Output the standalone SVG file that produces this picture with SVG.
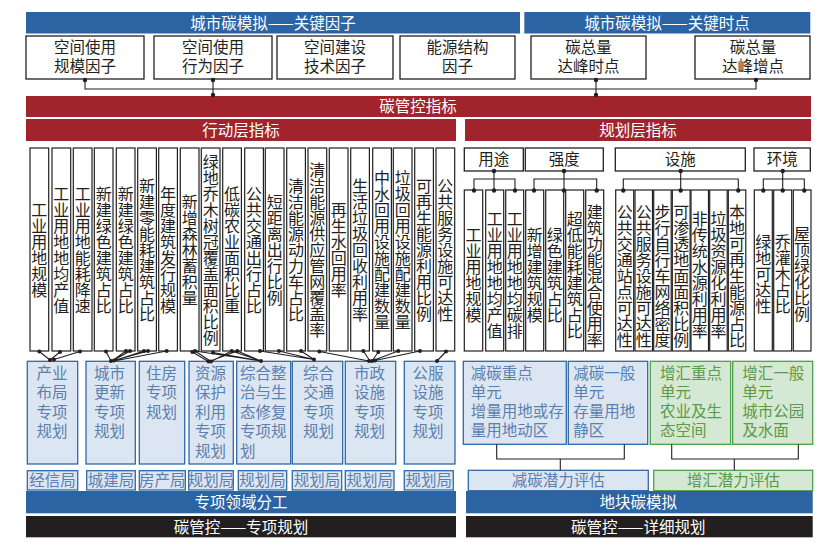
<svg xmlns="http://www.w3.org/2000/svg" width="837" height="548" viewBox="0 0 837 548">
<style>
.bb{fill:#2b63a3}
.br{fill:#a1232b}
.bk{fill:#231f20}
.box{fill:#fff;stroke:#231f20;stroke-width:1.3}
.col{fill:#fff;stroke:#231f20;stroke-width:1.2}
.pb{fill:#dce6f2;stroke:#2e68a8;stroke-width:1.3}
.gb{fill:#d4e8d3;stroke:#4aa14a;stroke-width:1.3}
text{font-family:"Noto Sans CJK SC","Noto Sans CJK JP",sans-serif;font-size:15.5px}
.w{fill:#fff;text-anchor:middle}
.k{fill:#231f20;text-anchor:middle}
.bt{fill:#5b80ae;text-anchor:middle}
.bl{fill:#5b80ae}
.gt{fill:#5a9a48;text-anchor:middle}
.gl{fill:#5a9a48}
.v{fill:#231f20;text-anchor:start;writing-mode:vertical-rl;font-size:16px}
.ln{fill:none;stroke:#231f20;stroke-width:1.1}
.dot{fill:#231f20}
</style>
<rect width="837" height="548" fill="#fff"/>

<!-- top bars -->
<g id="bar-factors"><rect class="bb" x="26" y="12" width="494" height="21.5"/><text class="w" x="273" y="28.5">城市碳模拟——关键因子</text></g>
<g id="bar-times"><rect class="bb" x="524.3" y="12" width="286" height="21.5"/><text class="w" x="667" y="28.5">城市碳模拟——关键时点</text></g>

<g id="f1"><rect class="box" x="26" y="36" width="118" height="43"/><text class="k" x="85" y="53.2">空间使用</text><text class="k" x="85" y="72.2">规模因子</text></g>
<g id="f2"><rect class="box" x="154" y="36" width="118" height="43"/><text class="k" x="213" y="53.2">空间使用</text><text class="k" x="213" y="72.2">行为因子</text></g>
<g id="f3"><rect class="box" x="277" y="36" width="116" height="43"/><text class="k" x="335" y="53.2">空间建设</text><text class="k" x="335" y="72.2">技术因子</text></g>
<g id="f4"><rect class="box" x="400" y="36" width="115" height="43"/><text class="k" x="457.5" y="53.2">能源结构</text><text class="k" x="457.5" y="72.2">因子</text></g>
<g id="t1"><rect class="box" x="531" y="36" width="115" height="43"/><text class="k" x="588.5" y="53.2">碳总量</text><text class="k" x="588.5" y="72.2">达峰时点</text></g>
<g id="t2"><rect class="box" x="695" y="36" width="115" height="43"/><text class="k" x="753" y="53.2">碳总量</text><text class="k" x="753" y="72.2">达峰增点</text></g>

<g id="bar-index"><rect class="br" x="26" y="96" width="785" height="21"/><text class="w" x="418" y="111.5">碳管控指标</text></g>
<g id="bar-action"><rect class="br" x="26" y="119" width="430" height="22"/><text class="w" x="241" y="135.5">行动层指标</text></g>
<g id="bar-plan"><rect class="br" x="465" y="119" width="346" height="22"/><text class="w" x="638" y="135.5">规划层指标</text></g>

<!-- action layer columns -->
<g id="action-cols">
<g id="a1"><rect class="col" x="30" y="148" width="18.7" height="203"/><text class="v" x="39.35" y="202">工业用地规模</text></g>
<g id="a2"><rect class="col" x="52" y="148" width="18.7" height="203"/><text class="v" x="61.35" y="186">工业用地地均产值</text></g>
<g id="a3"><rect class="col" x="73.3" y="148" width="18.7" height="203"/><text class="v" x="82.65" y="186">工业用地能耗降速</text></g>
<g id="a4"><rect class="col" x="94.3" y="148" width="18.7" height="203"/><text class="v" x="103.65" y="186">新建绿色建筑占比</text></g>
<g id="a5"><rect class="col" x="116.3" y="148" width="18.7" height="203"/><text class="v" x="125.65" y="186">新建绿色建筑占比</text></g>
<g id="a6"><rect class="col" x="137.7" y="148" width="18.7" height="203"/><text class="v" x="147.05" y="178">新建零能耗建筑占比</text></g>
<g id="a7"><rect class="col" x="158.7" y="148" width="18.7" height="203"/><text class="v" x="168.05" y="186">年度建筑发行规模</text></g>
<g id="a8"><rect class="col" x="180.3" y="148" width="18.7" height="203"/><text class="v" x="189.65" y="194">新增森林蓄积量</text></g>
<g id="a9"><rect class="col" x="201.3" y="148" width="18.7" height="203"/><text class="v" x="210.65" y="154">绿地乔木树冠覆盖面积比例</text></g>
<g id="a10"><rect class="col" x="222.7" y="148" width="18.7" height="203"/><text class="v" x="232.05" y="186">低碳农业面积比重</text></g>
<g id="a11"><rect class="col" x="244.7" y="148" width="18.7" height="203"/><text class="v" x="254.05" y="186">公共交通出行占比</text></g>
<g id="a12"><rect class="col" x="265.3" y="148" width="18.7" height="203"/><text class="v" x="274.65" y="194">短距离出行比例</text></g>
<g id="a13"><rect class="col" x="286.7" y="148" width="18.7" height="203"/><text class="v" x="296.05" y="178">清洁能源动力车占比</text></g>
<g id="a14"><rect class="col" x="308" y="148" width="18.7" height="203"/><text class="v" x="317.35" y="162">清洁能源供应管网覆盖率</text></g>
<g id="a15"><rect class="col" x="329.3" y="148" width="18.7" height="203"/><text class="v" x="338.65" y="202">再生水回用率</text></g>
<g id="a16"><rect class="col" x="350.7" y="148" width="18.7" height="203"/><text class="v" x="360.05" y="178">生活垃圾回收利用率</text></g>
<g id="a17"><rect class="col" x="372.7" y="148" width="18.7" height="203"/><text class="v" x="382.05" y="170">中水回用设施配建数量</text></g>
<g id="a18"><rect class="col" x="393.3" y="148" width="18.7" height="203"/><text class="v" x="402.65" y="170">垃圾回用设施配建数量</text></g>
<g id="a19"><rect class="col" x="414.7" y="148" width="18.7" height="203"/><text class="v" x="424.05" y="178">可再生能源利用比例</text></g>
<g id="a20"><rect class="col" x="436" y="148" width="18.7" height="203"/><text class="v" x="445.35" y="178">公共服务设施可达性</text></g>
</g>

<!-- planning layer categories -->
<g id="c-use"><rect class="box" x="464.3" y="148" width="59" height="23"/><text class="k" x="493.8" y="165">用途</text></g>
<g id="c-int"><rect class="box" x="525.3" y="148" width="78" height="23"/><text class="k" x="564.3" y="165">强度</text></g>
<g id="c-fac"><rect class="box" x="615.3" y="148" width="130" height="23"/><text class="k" x="680.3" y="165">设施</text></g>
<g id="c-env"><rect class="box" x="754" y="148" width="56.3" height="23"/><text class="k" x="782.2" y="165">环境</text></g>

<g id="plan-cols">
<g id="p1"><rect class="col" x="464.3" y="190" width="18.4" height="161"/><text class="v" x="473.5" y="227">工业用地规模</text></g>
<g id="p2"><rect class="col" x="485.7" y="190" width="18" height="161"/><text class="v" x="494.7" y="211">工业用地地均产值</text></g>
<g id="p3"><rect class="col" x="505.7" y="190" width="18" height="161"/><text class="v" x="514.7" y="211">工业用地地均碳排</text></g>
<g id="p4"><rect class="col" x="525.7" y="190" width="18" height="161"/><text class="v" x="534.7" y="227">新增建筑规模</text></g>
<g id="p5"><rect class="col" x="545.7" y="190" width="18" height="161"/><text class="v" x="554.7" y="227">绿色建筑占比</text></g>
<g id="p6"><rect class="col" x="565.7" y="190" width="18" height="161"/><text class="v" x="574.7" y="211">超低能耗建筑占比</text></g>
<g id="p7"><rect class="col" x="585.7" y="190" width="18" height="161"/><text class="v" x="594.7" y="204">建筑功能混合使用率</text></g>
<g id="p8"><rect class="col" x="615.7" y="190" width="18" height="161"/><text class="v" x="624.7" y="204">公共交通站点可达性</text></g>
<g id="p9"><rect class="col" x="635" y="190" width="17.5" height="161"/><text class="v" x="643.7" y="204">公共服务设施可达性</text></g>
<g id="p10"><rect class="col" x="653.7" y="190" width="17.5" height="161"/><text class="v" x="662.4" y="204">步行自行车网络密度</text></g>
<g id="p11"><rect class="col" x="672.3" y="190" width="17.8" height="161"/><text class="v" x="681.2" y="204">可渗透地面面积比例</text></g>
<g id="p12"><rect class="col" x="691" y="190" width="17.5" height="161"/><text class="v" x="699.7" y="211">非传统水源利用率</text></g>
<g id="p13"><rect class="col" x="709.7" y="190" width="17.5" height="161"/><text class="v" x="718.4" y="211">垃圾资源化利用率</text></g>
<g id="p14"><rect class="col" x="728.3" y="190" width="17.5" height="161"/><text class="v" x="737" y="204">本地可再生能源占比</text></g>
<g id="p15"><rect class="col" x="754.3" y="190" width="18" height="161"/><text class="v" x="763.3" y="234">绿地可达性</text></g>
<g id="p16"><rect class="col" x="773.7" y="190" width="18" height="161"/><text class="v" x="782.7" y="234">乔灌木占比</text></g>
<g id="p17"><rect class="col" x="793.3" y="190" width="17.7" height="161"/><text class="v" x="802.1" y="226">屋顶绿化比例</text></g>
</g>

<!-- special plans -->
<g id="s1"><rect class="pb" x="27.3" y="361.3" width="50.4" height="102.7"/><text class="bt" x="52" y="378.5">产业</text><text class="bt" x="52" y="398">布局</text><text class="bt" x="52" y="417.5">专项</text><text class="bt" x="52" y="437">规划</text></g>
<g id="s2"><rect class="pb" x="86" y="361.3" width="49.3" height="102.7"/><text class="bt" x="109.5" y="378.5">城市</text><text class="bt" x="109.5" y="398">更新</text><text class="bt" x="109.5" y="417.5">专项</text><text class="bt" x="109.5" y="437">规划</text></g>
<g id="s3"><rect class="pb" x="139.3" y="361.3" width="45.4" height="102.7"/><text class="bt" x="161.5" y="378.5">住房</text><text class="bt" x="161.5" y="398">专项</text><text class="bt" x="161.5" y="417.5">规划</text></g>
<g id="s4"><rect class="pb" x="189" y="361.3" width="44.3" height="102.7"/><text class="bt" x="210.5" y="378.5">资源</text><text class="bt" x="210.5" y="398">保护</text><text class="bt" x="210.5" y="417.5">利用</text><text class="bt" x="210.5" y="437">专项</text><text class="bt" x="210.5" y="456.5">规划</text></g>
<g id="s5"><rect class="pb" x="236.7" y="361.3" width="54" height="102.7"/><text class="bl" x="240" y="378.5">综合整</text><text class="bl" x="240" y="398">治与生</text><text class="bl" x="240" y="417.5">态修复</text><text class="bl" x="240" y="437">专项规</text><text class="bl" x="240" y="456.5">划</text></g>
<g id="s6"><rect class="pb" x="292.3" y="361.3" width="50.4" height="102.7"/><text class="bt" x="318.5" y="378.5">综合</text><text class="bt" x="318.5" y="398">交通</text><text class="bt" x="318.5" y="417.5">专项</text><text class="bt" x="318.5" y="437">规划</text></g>
<g id="s7"><rect class="pb" x="345.3" y="361.3" width="50.4" height="102.7"/><text class="bt" x="369.5" y="378.5">市政</text><text class="bt" x="369.5" y="398">设施</text><text class="bt" x="369.5" y="417.5">专项</text><text class="bt" x="369.5" y="437">规划</text></g>
<g id="s8"><rect class="pb" x="404.3" y="361.3" width="50.7" height="102.7"/><text class="bt" x="428" y="378.5">公服</text><text class="bt" x="428" y="398">设施</text><text class="bt" x="428" y="417.5">专项</text><text class="bt" x="428" y="437">规划</text></g>

<g id="b1"><rect class="pb" x="27.3" y="470.7" width="50.4" height="19.3"/><text class="bt" x="52.5" y="486">经信局</text></g>
<g id="b2"><rect class="pb" x="86.7" y="470.7" width="48.6" height="19.3"/><text class="bt" x="111" y="486">城建局</text></g>
<g id="b3"><rect class="pb" x="139.3" y="470.7" width="46" height="19.3"/><text class="bt" x="162.3" y="486">房产局</text></g>
<g id="b4"><rect class="pb" x="188.7" y="470.7" width="44.6" height="19.3"/><text class="bt" x="211" y="486">规划局</text></g>
<g id="b5"><rect class="pb" x="238.3" y="470.7" width="48.4" height="19.3"/><text class="bt" x="262.5" y="486">规划局</text></g>
<g id="b6"><rect class="pb" x="292.3" y="470.7" width="49.4" height="19.3"/><text class="bt" x="317" y="486">规划局</text></g>
<g id="b7"><rect class="pb" x="345.3" y="470.7" width="48.7" height="19.3"/><text class="bt" x="369.7" y="486">规划局</text></g>
<g id="b8"><rect class="pb" x="404.3" y="470.7" width="49" height="19.3"/><text class="bt" x="428.8" y="486">规划局</text></g>

<g id="bar-div"><rect class="bb" x="26" y="491" width="430" height="22.3"/><text class="w" x="241" y="507.5">专项领域分工</text></g>
<g id="bar-special"><rect class="bk" x="26" y="516" width="430" height="21.3"/><text class="w" x="241" y="532.5">碳管控——专项规划</text></g>

<!-- detailed units -->
<g id="u1"><rect class="pb" x="463.3" y="361.3" width="103" height="83"/><text class="bl" x="470.7" y="378.8">减碳重点</text><text class="bl" x="470.7" y="398.2">单元</text><text class="bl" x="470.7" y="416.5">增量用地或存</text><text class="bl" x="470.7" y="436.2">量用地动区</text></g>
<g id="u2"><rect class="pb" x="568.3" y="361.3" width="79.4" height="83"/><text class="bl" x="573.3" y="378.8">减碳一般</text><text class="bl" x="573.3" y="398.2">单元</text><text class="bl" x="573.3" y="416.5">存量用地</text><text class="bl" x="573.3" y="436.2">静区</text></g>
<g id="u3"><rect class="gb" x="650.3" y="361.3" width="80.4" height="83"/><text class="gl" x="660" y="378.8">增汇重点</text><text class="gl" x="660" y="398.2">单元</text><text class="gl" x="660" y="416.5">农业及生</text><text class="gl" x="660" y="436.2">态空间</text></g>
<g id="u4"><rect class="gb" x="732.7" y="361.3" width="80" height="83"/><text class="gl" x="742.3" y="378.8">增汇一般</text><text class="gl" x="742.3" y="398.2">单元</text><text class="gl" x="742.3" y="416.5">城市公园</text><text class="gl" x="742.3" y="436.2">及水面</text></g>

<g id="e1"><rect class="pb" x="468.3" y="470.3" width="180" height="20.4"/><text class="bt" x="558.3" y="486">减碳潜力评估</text></g>
<g id="e2"><rect class="gb" x="653.7" y="470.3" width="159" height="20.4"/><text class="gt" x="733.3" y="486">增汇潜力评估</text></g>

<g id="bar-plot"><rect class="bb" x="466" y="491" width="346.7" height="22.3"/><text class="w" x="638.3" y="507.5">地块碳模拟</text></g>
<g id="bar-detail"><rect class="bk" x="466" y="516" width="346.7" height="21.3"/><text class="w" x="638.3" y="532.5">碳管控——详细规划</text></g>

<!-- connectors -->
<g id="connectors">
<path class="ln" d="M85 80V89H756V80M213 80V95M596 80V95"/>
<path class="ln" d="M494 171V179M474 190V179H515V190M494 179V190"/>
<path class="ln" d="M564 171V179M534 190V179H596.7V190M564 179V190"/>
<path class="ln" d="M680.7 171V179M623.3 190V179H738.3V190M680.7 179V190"/>
<path class="ln" d="M782.7 171V179M763.3 190V179H804.3V190M782.7 179V190"/>
<path class="ln" d="M39.3 351.5L50 360M60 352L50 360M80 351.5L54 359.5"/>
<path class="ln" d="M106 351.5L111 361M126 351L112 361M130 351L113 360.5M144 351L113 361M148 351L114 360.5M166.7 351L114 361"/>
<path class="ln" d="M192.3 352L208.5 361.5M195 351L211 361.5M231.7 351L211 361.5M237.3 351L209 361.5"/>
<path class="ln" d="M195 351L261 361M213 352.5L261 361M231.7 351L261 361M237.3 351L261 361"/>
<path class="ln" d="M260 351L314 359.5M279 351L314 359.5M301 351L314 359.5"/>
<path class="ln" d="M319.3 351.5L369 361M363.3 351L370 361M378.3 352L372 361M398.3 351L373 360.5M420 351L375 360.5"/>
<path class="ln" d="M446 351.5L437 361"/>
<path class="ln" d="M496.7 444.3V459H624.3V444.3M560.3 459V470.3"/>
<path class="ln" d="M671.7 444.3V459H798.3V444.3M734.3 459V470.3"/>
<g class="dot">
<circle cx="85" cy="80" r="2.2"/><circle cx="213" cy="80" r="2.2"/><circle cx="213" cy="95" r="2.2"/><circle cx="596" cy="80" r="2.2"/><circle cx="596" cy="95" r="2.2"/><circle cx="756" cy="80" r="2.2"/>
<circle cx="494" cy="171" r="2.2"/><circle cx="474" cy="190.5" r="2.2"/><circle cx="494" cy="190.5" r="2.2"/><circle cx="515" cy="190.5" r="2.2"/>
<circle cx="564" cy="171" r="2.2"/><circle cx="534" cy="190.5" r="2.2"/><circle cx="564" cy="190.5" r="2.2"/><circle cx="596.7" cy="190.5" r="2.2"/>
<circle cx="680.7" cy="171" r="2.2"/><circle cx="623.3" cy="190.5" r="2.2"/><circle cx="680.7" cy="190.5" r="2.2"/><circle cx="738.3" cy="190.5" r="2.2"/>
<circle cx="782.7" cy="171" r="2.2"/><circle cx="763.3" cy="190.5" r="2.2"/><circle cx="782.7" cy="190.5" r="2.2"/><circle cx="804.3" cy="190.5" r="2.2"/>
<circle cx="39.3" cy="351.5" r="2"/><circle cx="60" cy="352" r="2"/><circle cx="80" cy="351.5" r="2"/><circle cx="50" cy="360" r="2"/><circle cx="54" cy="359.5" r="2"/>
<circle cx="106" cy="351.5" r="2"/><circle cx="126" cy="351" r="2"/><circle cx="130" cy="351" r="2"/><circle cx="144" cy="351" r="2"/><circle cx="148" cy="351" r="2"/><circle cx="166.7" cy="351" r="2"/><circle cx="111" cy="361" r="2"/><circle cx="114" cy="360.5" r="2"/>
<circle cx="192.3" cy="352" r="2"/><circle cx="195" cy="351" r="2"/><circle cx="213" cy="352.5" r="2"/><circle cx="231.7" cy="351" r="2"/><circle cx="237.3" cy="351" r="2"/><circle cx="208.5" cy="361.5" r="2"/><circle cx="211" cy="361.5" r="2"/><circle cx="261" cy="361" r="2"/>
<circle cx="260" cy="351" r="2"/><circle cx="279" cy="351" r="2"/><circle cx="301" cy="351" r="2"/><circle cx="314" cy="359.5" r="2"/>
<circle cx="319.3" cy="351.5" r="2"/><circle cx="363.3" cy="351" r="2"/><circle cx="378.3" cy="352" r="2"/><circle cx="398.3" cy="351" r="2"/><circle cx="420" cy="351" r="2"/><circle cx="369" cy="361" r="2"/><circle cx="372" cy="361" r="2"/><circle cx="375" cy="360.5" r="2"/>
<circle cx="446" cy="351.5" r="2"/><circle cx="437" cy="361" r="2"/>
</g>
</g>
</svg>
